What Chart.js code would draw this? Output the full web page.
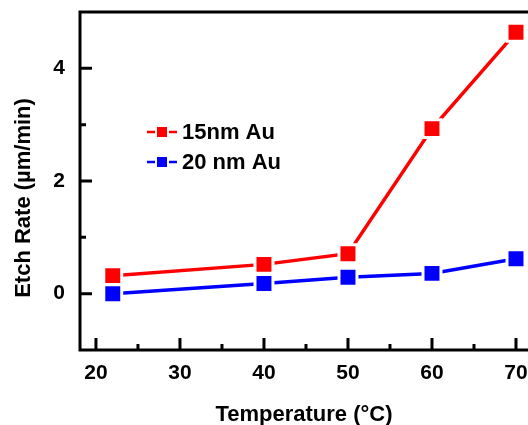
<!DOCTYPE html>
<html>
<head>
<meta charset="utf-8">
<script src="https://cdn.jsdelivr.net/npm/chart.js@4"></script>
<style>
  html, body { margin: 0; padding: 0; background: #fff; overflow: hidden; }
  #myChart { display: block; }
</style>
</head>
<body>
<canvas id="myChart" width="528" height="425"></canvas>
<script>
// datos
var temps = [22, 40, 50, 60, 70];
var rate15 = [0.32, 0.52, 0.71, 2.93, 4.64];
var rate20 = [0.0, 0.18, 0.29, 0.36, 0.62];
var seriesNames = ["15nm Au", "20 nm Au"];
var xTickValues = [20, 30, 40, 50, 60, 70];
var xMinorValues = [25, 35, 45, 55, 65];
var yTickValues = [0, 2, 4];
var yMinorValues = [1, 3];

var fontFamily = "'Liberation Sans', Arial, sans-serif";
var red = "rgb(255, 0, 0)";
var blue = "rgb(0, 0, 255)";

function toPoints(xs, ys) {
  return xs.map(function (x, i) { return { x: x, y: ys[i] }; });
}

// marco tipo Origin: ejes, ticks hacia adentro, titulo Y y leyenda
var framePlugin = {
  id: "frame",
  afterDraw: function (chart) {
    var ctx = chart.ctx;
    var area = chart.chartArea;
    var xs = chart.scales.x;
    var ys = chart.scales.y;
    ctx.save();
    ctx.strokeStyle = "#000";
    ctx.lineWidth = 3;
    ctx.lineCap = "square";
    ctx.beginPath();
    ctx.moveTo(area.right + 2, area.top);
    ctx.lineTo(area.left, area.top);
    ctx.lineTo(area.left, area.bottom);
    ctx.lineTo(area.right + 2, area.bottom);
    ctx.stroke();

    ctx.lineCap = "butt";
    ctx.beginPath();
    xTickValues.forEach(function (v) {
      var px = xs.getPixelForValue(v);
      ctx.moveTo(px, area.bottom);
      ctx.lineTo(px, area.bottom - 12);
    });
    xMinorValues.forEach(function (v) {
      var px = xs.getPixelForValue(v);
      ctx.moveTo(px, area.bottom);
      ctx.lineTo(px, area.bottom - 6);
    });
    yTickValues.forEach(function (v) {
      var py = ys.getPixelForValue(v);
      ctx.moveTo(area.left, py);
      ctx.lineTo(area.left + 12, py);
    });
    yMinorValues.forEach(function (v) {
      var py = ys.getPixelForValue(v);
      ctx.moveTo(area.left, py);
      ctx.lineTo(area.left + 6, py);
    });
    ctx.stroke();

    // titulo eje Y
    ctx.fillStyle = "#000";
    ctx.font = "bold 22px " + fontFamily;
    ctx.textAlign = "center";
    ctx.textBaseline = "middle";
    ctx.save();
    ctx.translate(24, 198);
    ctx.rotate(-Math.PI / 2);
    ctx.fillText("Etch Rate (\u00b5m/min)", 0, 0);
    ctx.restore();

    // leyenda
    var colors = [red, blue];
    var rows = [132, 162];
    seriesNames.forEach(function (name, i) {
      var y = rows[i];
      ctx.strokeStyle = colors[i];
      ctx.fillStyle = colors[i];
      ctx.lineWidth = 2.5;
      ctx.beginPath();
      ctx.moveTo(147, y);
      ctx.lineTo(155, y);
      ctx.moveTo(169, y);
      ctx.lineTo(177, y);
      ctx.stroke();
      ctx.fillRect(157, y - 5, 10, 10);
      ctx.fillStyle = "#000";
      ctx.textAlign = "left";
      ctx.font = "bold 22px " + fontFamily;
      ctx.fillText(name, 182, y + 1);
    });
    ctx.restore();
  }
};

var ctx = document.getElementById("myChart").getContext("2d");
var chart = new Chart(ctx, {
  type: "line",
  data: {
    datasets: [
      {
        label: seriesNames[0],
        data: toPoints(temps, rate15),
        borderColor: red,
        backgroundColor: red,
        borderWidth: 3.5,
        pointStyle: "rect",
        pointRadius: 12.7,
        pointBorderWidth: 3,
        pointBorderColor: "#fff",
        pointBackgroundColor: red,
        tension: 0
      },
      {
        label: seriesNames[1],
        data: toPoints(temps, rate20),
        borderColor: blue,
        backgroundColor: blue,
        borderWidth: 3.5,
        pointStyle: "rect",
        pointRadius: 12.7,
        pointBorderWidth: 3,
        pointBorderColor: "#fff",
        pointBackgroundColor: blue,
        tension: 0
      }
    ]
  },
  options: {
    responsive: false,
    animation: false,
    devicePixelRatio: 1,
    layout: { autoPadding: false, padding: { top: 12, left: 0, right: 0, bottom: 0 } },
    plugins: {
      legend: { display: false },
      tooltip: { enabled: false }
    },
    scales: {
      x: {
        type: "linear",
        min: 18.1,
        max: 71.43,
        grid: { display: false, drawTicks: false },
        border: { display: false },
        afterFit: function (s) {
          s.height = 75;
          s.paddingLeft = 0;
          s.paddingRight = 0;
        },
        afterBuildTicks: function (s) {
          s.ticks = xTickValues.map(function (v) { return { value: v }; });
        },
        ticks: {
          autoSkip: false,
          maxRotation: 0,
          padding: 11,
          color: "#000",
          font: { family: fontFamily, size: 21, weight: "bold" }
        },
        title: {
          display: true,
          text: "Temperature (\u00b0C)",
          color: "#000",
          font: { family: fontFamily, size: 22, weight: "bold" },
          padding: { top: 0, bottom: -3 }
        }
      },
      y: {
        min: -1,
        max: 5,
        grid: { display: false, drawTicks: false },
        border: { display: false },
        afterFit: function (s) {
          s.width = 80;
          s.paddingTop = 0;
          s.paddingBottom = 0;
        },
        afterBuildTicks: function (s) {
          s.ticks = yTickValues.map(function (v) { return { value: v }; });
        },
        ticks: {
          padding: 15,
          color: "#000",
          font: { family: fontFamily, size: 21, weight: "bold" }
        }
      }
    }
  },
  plugins: [framePlugin]
});
</script>
</body>
</html>
